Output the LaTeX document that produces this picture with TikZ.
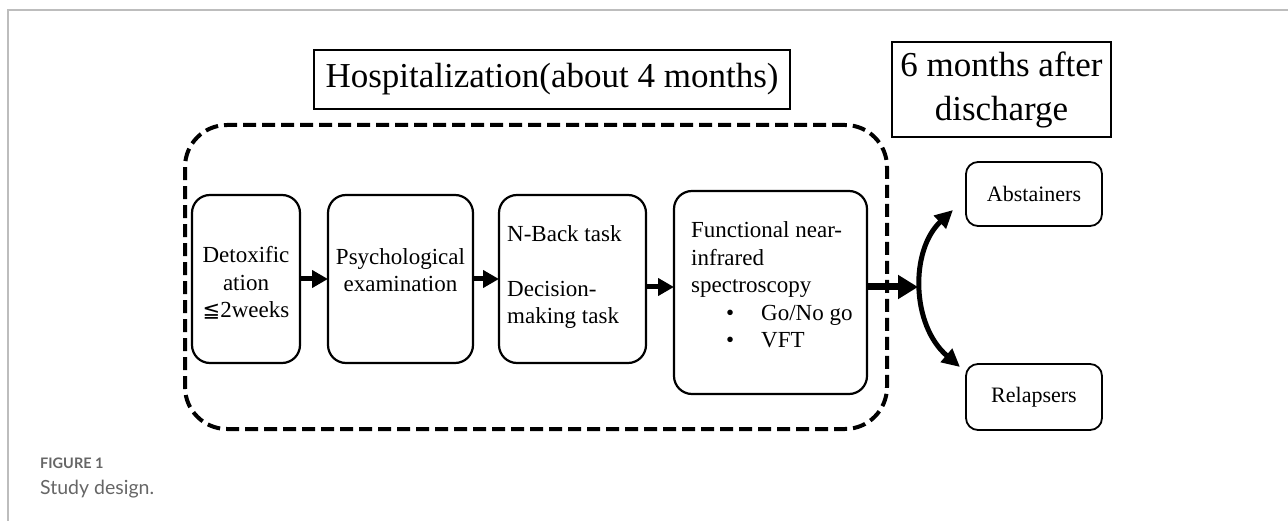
\documentclass[tikz,border=0pt]{standalone}
\usepackage{fontspec}
\setmainfont{Liberation Serif}
\newfontfamily\capfont{Lato}
\newfontfamily\symfont{DejaVu Sans}
\usetikzlibrary{arrows.meta}
\definecolor{rulegray}{HTML}{BDBDBD}
\definecolor{capgray}{HTML}{666666}
\begin{document}
\begin{tikzpicture}[x=1pt,y=-1pt,
  stepbox/.style={draw, line width=2.2pt, rounded corners=18pt, inner sep=0pt, outer sep=0pt},
  boxtext/.style={font=\fontsize{23}{27.5}\selectfont, inner sep=0pt},
  titlebox/.style={draw, line width=1.1pt, inner sep=0pt, outer sep=0pt, align=center,
    font=\fontsize{35}{44}\selectfont},
  outbox/.style={draw, line width=1.8pt, rounded corners=12pt, inner sep=0pt, outer sep=0pt,
    minimum width=136pt, font=\fontsize{22}{26}\selectfont},
  stayframe/.style={draw, line width=4pt, dash pattern=on 13pt off 6pt, rounded corners=42pt,
    inner sep=0pt, outer sep=0pt},
  flow/.style={line width=5pt, -{Triangle[length=16pt,width=17pt]}},
  bigflow/.style={line width=7pt, -{Triangle[length=20pt,width=23pt]}},
  split/.style={line width=5pt, {Triangle[length=18pt,width=17pt]}-{Triangle[length=18pt,width=17pt]}}
]
\useasboundingbox (0,0) rectangle (1288,521);

% page rule lines
\draw[rulegray, line width=2pt] (8,521) -- (8,10) -- (1288,10);

% headings
\node[titlebox, minimum width=476pt, minimum height=59pt] (hosp) at (552,79.5)
  {Hospitalization(about 4 months)};
\node[titlebox, minimum width=219pt, minimum height=95pt] (after) at (1001.5,89.5)
  {6 months after\\discharge};

% hospital stay frame
\node[stayframe, minimum width=702pt, minimum height=304pt] (stay) at (536,277) {};

% steps during the stay
\node[stepbox, minimum width=108pt, minimum height=168pt] (detox) at (246,279) {};
\node[stepbox, minimum width=145pt, minimum height=168pt] (psych) at (400.5,279) {};
\node[stepbox, minimum width=147pt, minimum height=168pt] (nback) at (572.5,279) {};
\node[stepbox, minimum width=193pt, minimum height=203pt] (fnirs) at (770.5,292.5) {};

\node[boxtext, align=center] (detoxtxt) at (246,283)
  {Detoxific\\ation\\{\symfont\fontsize{21}{27.5}\selectfont ≦}2weeks};
\node[boxtext, align=center] (psychtxt) at (400.5,270)
  {Psychological\\examination};
\node[boxtext, align=left, anchor=west] (nbacktxt) at (507,277)
  {N-Back task\\[27.5pt]Decision-\\making task};
\node[boxtext, align=left, anchor=west] (fnirstxt) at (691,285)
  {Functional near-\\infrared\\spectroscopy\\
   \hspace*{35pt}\textbullet\hspace*{27pt}Go/No go\\
   \hspace*{35pt}\textbullet\hspace*{27pt}VFT};

% outcomes
\node[outbox, minimum height=64pt] (abst) at (1034,194) {Abstainers};
\node[outbox, minimum height=66pt] (relap) at (1034,397) {Relapsers};

% flow arrows
\draw[flow] (detox.east) -- (psych.west);
\draw[flow] (psych.east) -- (nback.west);
\draw[flow] ([yshift=-8pt]nback.east) -- ([yshift=-8pt]nback.east -| fnirs.west);
\coordinate (fork) at (918,287);
\draw[bigflow] ([yshift=5.5pt]fnirs.east) -- (fork);

% branching to the outcomes
\coordinate (toabst) at (953,210);
\coordinate (torelap) at (960,367);
\draw[split] (toabst) .. controls (910,250) and (911,325) .. (torelap);

% caption
\node[anchor=west, inner sep=0pt, text=capgray, font=\capfont\bfseries\fontsize{14.5}{16}\selectfont]
  (figlabel) at (40,463) {FIGURE 1};
\node[anchor=west, inner sep=0pt, text=capgray, font=\capfont\fontsize{19.5}{22}\selectfont]
  (figcap) at (40,489) {Study design.};
\end{tikzpicture}
\end{document}
